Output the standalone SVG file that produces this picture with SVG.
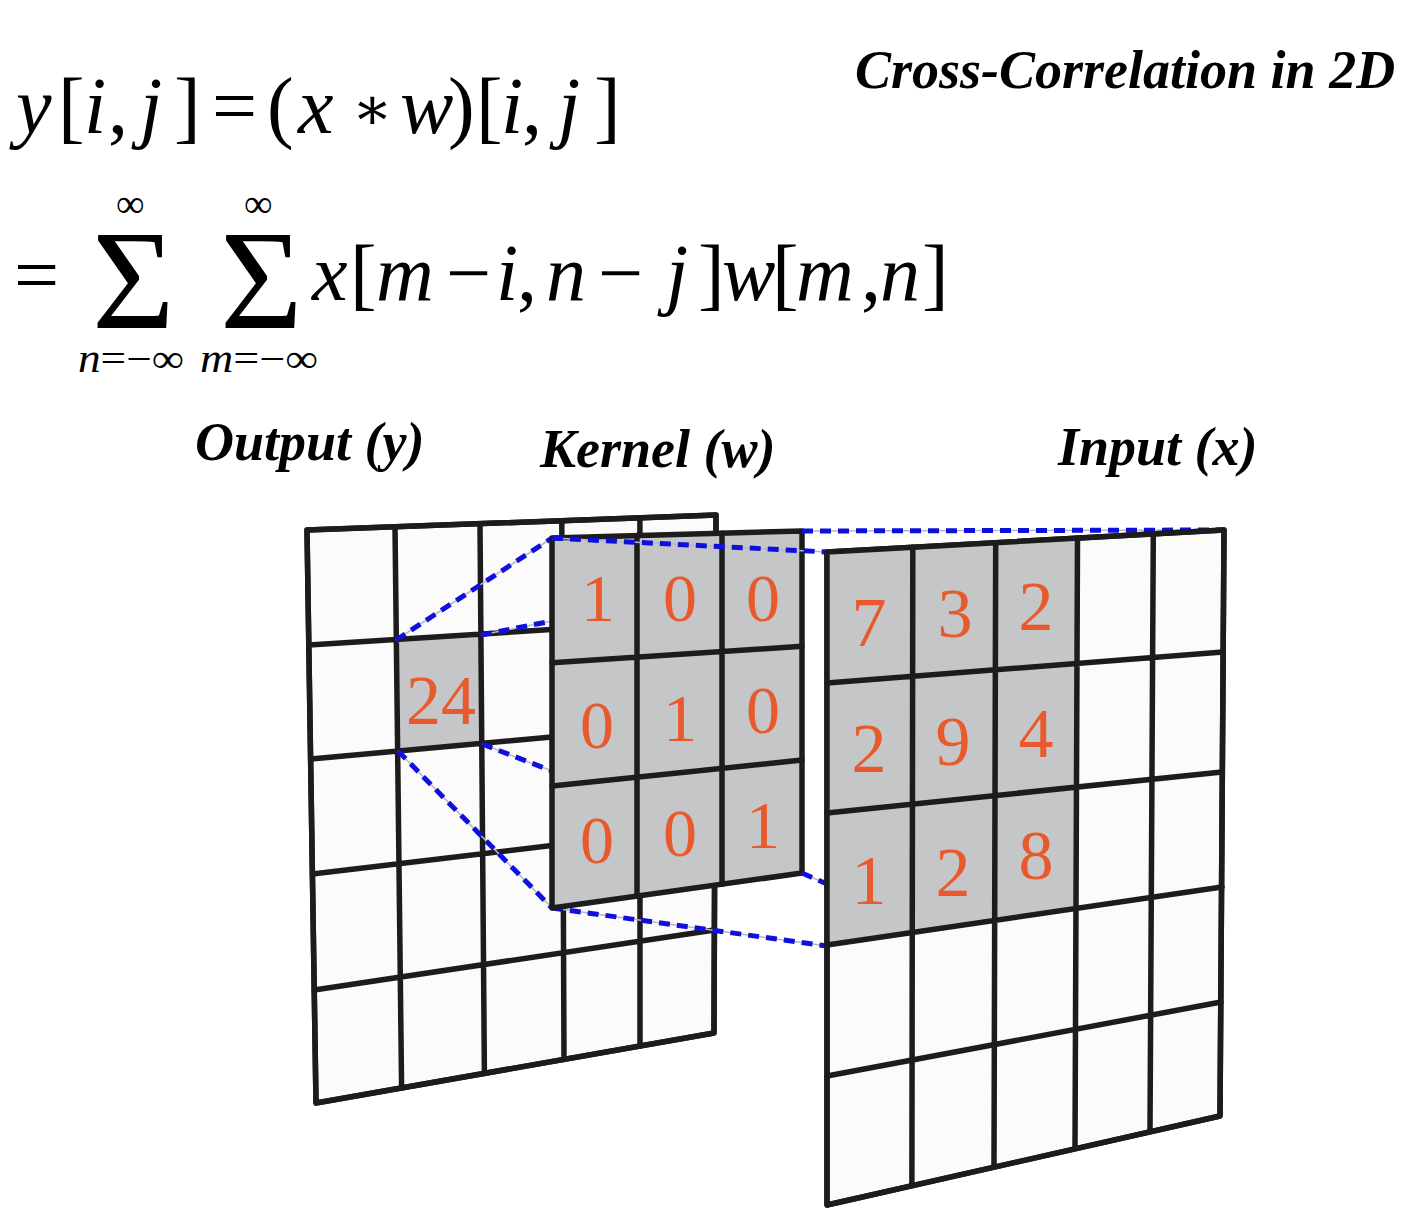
<svg xmlns="http://www.w3.org/2000/svg" width="1422" height="1226" viewBox="0 0 1422 1226">
<style>
.frame{fill:#fbfbfb;stroke:#1c1c1c;stroke-width:5.5;stroke-linejoin:round}
.kframe{fill:#c5c6c8;stroke:#1c1c1c;stroke-width:5.5;stroke-linejoin:round}
.gray{fill:#c5c6c8;stroke:none}
.gl{stroke:#1c1c1c;stroke-width:5.5;stroke-linecap:round;fill:none}
.num{font-family:"Liberation Serif","DejaVu Serif",serif;fill:#e8592b;text-anchor:middle}
.lbl{font-family:"Liberation Serif","DejaVu Serif",serif;font-weight:bold;font-style:italic;fill:#000}
.math{font-family:"Liberation Serif","DejaVu Serif",serif;fill:#000}
.it{font-style:italic}
.guide{stroke:#b8b8b8;stroke-width:1.5;fill:none}
.dash{stroke:#1010dc;stroke-width:5;stroke-dasharray:11 7;fill:none}
</style>

<g id="title">
<text class="lbl" x="855" y="88" font-size="54">Cross-Correlation in 2D</text>
</g>

<g id="formula" class="math">
<text y="133" font-size="80">
<tspan class="it" x="16">y</tspan><tspan x="58">[</tspan><tspan class="it" x="84">i</tspan><tspan x="108">,</tspan><tspan class="it" x="140">j</tspan><tspan x="174">]</tspan><tspan x="212">=</tspan><tspan x="267">(</tspan><tspan class="it" x="298">x</tspan><tspan font-size="60" x="352" dy="-4">∗</tspan><tspan class="it" x="400" dy="4">w</tspan><tspan x="448">)</tspan><tspan x="476">[</tspan><tspan class="it" x="501">i</tspan><tspan x="522">,</tspan><tspan class="it" x="558">j</tspan><tspan x="594">]</tspan>
</text>
<text x="14" y="302" font-size="80">=</text>
<text x="92" y="328" font-size="142">Σ</text>
<text x="220" y="328" font-size="142">Σ</text>
<text x="116" y="217" font-size="40">∞</text>
<text x="244" y="217" font-size="40">∞</text>
<text x="78" y="372" font-size="40" textLength="106" lengthAdjust="spacingAndGlyphs"><tspan class="it">n</tspan>=−∞</text>
<text x="200" y="372" font-size="40" textLength="118" lengthAdjust="spacingAndGlyphs"><tspan class="it">m</tspan>=−∞</text>
<text y="300" font-size="80">
<tspan class="it" x="312">x</tspan><tspan x="350">[</tspan><tspan class="it" x="376">m</tspan><tspan x="446">−</tspan><tspan class="it" x="496">i</tspan><tspan x="517">,</tspan><tspan class="it" x="546">n</tspan><tspan x="598">−</tspan><tspan class="it" x="666">j</tspan><tspan x="698">]</tspan><tspan class="it" x="722">w</tspan><tspan x="772">[</tspan><tspan class="it" x="796">m</tspan><tspan x="861">,</tspan><tspan class="it" x="880">n</tspan><tspan x="922">]</tspan>
</text>
</g>

<g id="labels">
<text class="lbl" x="195" y="460" font-size="54">Output (y)</text>
<text class="lbl" x="540" y="467" font-size="54">Kernel (w)</text>
<text class="lbl" x="1058" y="465" font-size="54">Input (x)</text>
</g>

<g id="output">
<path class="frame" d="M307,530 L716,515 L714,1033 L316,1103 Z"/>
<polygon class="gray" points="396.3,640 480.9,635 481.8,744.2 397.6,751.5"/>
<path class="gl" d="M395,526.8 L401.6,1088 M480,523.7 L484.4,1073.4 M561.8,520.7 L564,1059.4 M639.9,517.8 L640,1046 M309,645 L715.6,619 M311,759 L715.2,722 M312.4,874 L714.8,826 M314.2,990 L714.4,930"/>
<path class="frame" style="fill:none" d="M307,530 L716,515 L714,1033 L316,1103 Z"/>
<text class="num" x="441" y="724" font-size="70">24</text>
</g>

<g id="connectors-back">
<path class="guide" d="M396,640 L552,538 M481,635 L552,621 M398,751 L552,908 M482,744 L552,771 M552,908 L827,946"/>
<path class="dash" d="M396,640 L552,538 M481,635 L552,621 M398,751 L552,908 M482,744 L552,771 M552,908 L827,946"/>
</g>

<g id="kernel">
<path class="kframe" d="M552,538 L802,531 L802,873 L552,908 Z"/>
<path class="gl" d="M637,535.6 L637,896.1 M722,533.2 L722,884.2 M552,662.7 L802,646.3 M552,785.9 L802,760.1"/>
<text class="num" font-size="68" x="598" y="621">1</text>
<text class="num" font-size="68" x="680" y="621">0</text>
<text class="num" font-size="68" x="763" y="621">0</text>
<text class="num" font-size="68" x="597" y="748">0</text>
<text class="num" font-size="68" x="680" y="741">1</text>
<text class="num" font-size="68" x="763" y="733">0</text>
<text class="num" font-size="68" x="597" y="863">0</text>
<text class="num" font-size="68" x="680" y="856">0</text>
<text class="num" font-size="68" x="763" y="848">1</text>
</g>

<g id="connectors-front">
<path class="guide" d="M552,538 L827,552 M802,531 L1224,530 M802,873 L827,884"/>
<path class="dash" d="M552,538 L827,552 M802,531 L1224,530 M802,873 L827,884"/>
</g>

<g id="input">
<path class="frame" d="M827,552 L1224,530 L1220,1116 L827,1205 Z"/>
<polygon class="gray" points="827,552 1077.5,538.1 1076,908.4 827,945"/>
<path class="gl" d="M912.8,547.2 L911.9,1185.6 M995.7,542.7 L994,1166.8 M1077.5,538.1 L1075,1148.2 M1153.3,533.9 L1150,1131 M827,683 L1223,652 M827,813 L1222,772 M827,945 L1222,887 M827,1076 L1221,1002"/>
<path class="frame" style="fill:none" d="M827,552 L1224,530 L1220,1116 L827,1205 Z"/>
<text class="num" font-size="70" x="869" y="646">7</text>
<text class="num" font-size="70" x="955" y="637">3</text>
<text class="num" font-size="70" x="1036" y="630">2</text>
<text class="num" font-size="70" x="869" y="772">2</text>
<text class="num" font-size="70" x="953" y="765">9</text>
<text class="num" font-size="70" x="1036" y="757">4</text>
<text class="num" font-size="70" x="869" y="904">1</text>
<text class="num" font-size="70" x="953" y="896">2</text>
<text class="num" font-size="70" x="1036" y="879">8</text>
</g>
</svg>
